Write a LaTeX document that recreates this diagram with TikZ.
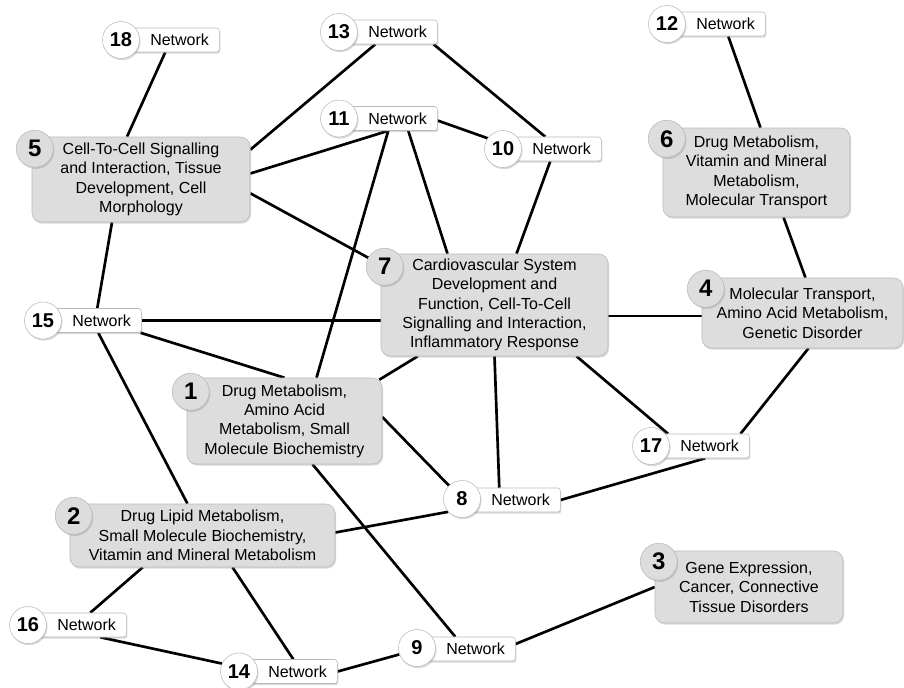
\documentclass[tikz,border=0pt]{standalone}
\usepackage{fontspec}
\setmainfont{Liberation Sans}
\usetikzlibrary{shadows}
\usetikzlibrary{calc}
\usetikzlibrary{backgrounds}

\definecolor{boxgray}{RGB}{221,221,221}
\definecolor{rimgray}{RGB}{185,185,185}

\tikzset{
    topic/.style={draw=rimgray,fill=boxgray,rounded corners=7pt,align=center,inner sep=0pt,
        font=\fontsize{12}{14.5}\selectfont,
        drop shadow={opacity=0.3,shadow xshift=0.8pt,shadow yshift=-1.3pt}},
    topicnum/.style={circle,draw=rimgray,fill=boxgray,minimum size=27.75pt,inner sep=0pt,
        font=\fontsize{18}{18}\selectfont\bfseries,
        drop shadow={opacity=0.3,shadow xshift=0.8pt,shadow yshift=-1.3pt}},
    netbox/.style={draw=rimgray,fill=white,rounded corners=2pt,anchor=west,inner sep=0pt,
        minimum width=73.5pt,minimum height=18pt,font=\fontsize{12}{14}\selectfont,
        execute at begin node={\hspace*{14pt}},
        drop shadow={opacity=0.3,shadow xshift=0.8pt,shadow yshift=-1.3pt}},
    netnum/.style={circle,draw=rimgray,fill=white,minimum size=27.75pt,inner sep=0pt,
        font=\fontsize{15}{15}\selectfont\bfseries,
        drop shadow={opacity=0.3,shadow xshift=0.8pt,shadow yshift=-1.3pt}},
    link/.style={line width=2pt,black}
}

\begin{document}
\begin{tikzpicture}[x=0.75pt,y=-0.75pt]
\useasboundingbox (0,0) rectangle (904,687);

% topic boxes
\node[topic,minimum width=163.5pt,minimum height=63.75pt] (t5) at (141,179.5) {Cell-To-Cell Signalling\\and Interaction, Tissue\\Development, Cell\\Morphology};
\node[topicnum] (c5) at ($(t5.north west)+(3,12)$) {5};
\node[topic,minimum width=140.25pt,minimum height=66.75pt] (t6) at (756.5,172.5) {Drug Metabolism,\\Vitamin and Mineral\\Metabolism,\\Molecular Transport};
\node[topicnum] (c6) at ($(t6.north west)+(4,11)$) {6};
\node[topic,minimum width=170.25pt,minimum height=76.5pt] (t7) at (494.5,305) {Cardiovascular System\\Development and\\Function, Cell-To-Cell\\Signalling and Interaction,\\Inflammatory Response};
\node[topicnum] (c7) at ($(t7.north west)+(4,13)$) {7};
\node[topic,minimum width=150.75pt,minimum height=52.5pt] (t4) at (802.5,313) {Molecular Transport,\\Amino Acid Metabolism,\\Genetic Disorder};
\node[topicnum] (c4) at ($(t4.north west)+(4,11)$) {4};
\node[topic,minimum width=146.25pt,minimum height=64.5pt] (t1) at (284.5,421) {Drug Metabolism,\\Amino Acid\\Metabolism, Small\\Molecule Biochemistry};
\node[topicnum] (c1) at ($(t1.north west)+(4,14)$) {1};
\node[topic,minimum width=198.75pt,minimum height=47.25pt] (t2) at (202.5,535.5) {Drug Lipid Metabolism,\\Small Molecule Biochemistry,\\Vitamin and Mineral Metabolism};
\node[topicnum] (c2) at ($(t2.north west)+(4,12)$) {2};
\node[topic,minimum width=141pt,minimum height=54pt] (t3) at (749,587) {Gene Expression,\\Cancer, Connective\\Tissue Disorders};
\node[topicnum] (c3) at ($(t3.north west)+(4,11)$) {3};

% network labels
\node[netbox] (n18) at (121,40) {Network};
\node[netnum] (c18) at (121,40) {18};
\node[netbox] (n13) at (339,32) {Network};
\node[netnum] (c13) at (339,32) {13};
\node[netbox] (n11) at (339,118.5) {Network};
\node[netnum] (c11) at (339,118.5) {11};
\node[netbox] (n10) at (503,149) {Network};
\node[netnum] (c10) at (503,149) {10};
\node[netbox] (n12) at (667,24) {Network};
\node[netnum] (c12) at (667,24) {12};
\node[netbox] (n15) at (43,320.5) {Network};
\node[netnum] (c15) at (43,320.5) {15};
\node[netbox] (n17) at (651,446) {Network};
\node[netnum] (c17) at (651,446) {17};
\node[netbox] (n16) at (28,625) {Network};
\node[netnum] (c16) at (28,625) {16};
\node[netbox] (n14) at (239,671.5) {Network};
\node[netnum] (c14) at (239,671.5) {14};
\node[netbox] (n9) at (417,649) {Network};
\node[netnum] (c9) at (417,648) {9};
\node[netbox] (n8) at (462,500) {Network};
\node[netnum] (c8) at (462,499) {8};

\begin{scope}[on background layer]
\draw[link] ($(n18.south)+(-5,0)$) -- ($(t5.north)+(-14,0)$);
\draw[link] ($(t5.north east)+(0,13)$) -- ($(n13.south)+(-13,0)$);
\draw[link] ($(t5.east)+(0,-6)$) -- (n11.south);
\draw[link] ($(t5.south east)+(0,-29)$) -- (c7);
\draw[link] ($(t5.south)+(-29,0)$) -- ($(n15.north)+(5,0)$); %Cell-To-Cell
\draw[link] ($(n13.south east)+(-4,0)$) -- ($(n10.north)+(-7,0)$);
\draw[link] ($(n11.east)+(0,2)$) -- (c10.145);
\draw[link] ($(n11.south)+(20,0)$) -- ($(t7.north)+(-47,0)$);
\draw[link] (n11.south) -- ($(t1.north)+(32,0)$);
\draw[link] ($(n10.south)+(-2,0)$) -- ($(t7.north)+(22,0)$);
\draw[link] ($(n12.south)+(12,0)$) -- ($(t6.north)+(4,0)$);
\draw[link] ($(t6.south)+(27,0)$) -- ($(t4.north)+(3,0)$);
\draw[link] ($(t7.east)+(0,11)$) -- ($(t4.west)+(0,3)$);
\draw[link] (n15.east) -- ($(t7.west)+(0,15.5)$); %Network 15
\draw[link] ($(n15.south east)+(-1,0)$) -- (t1.north);
\draw[link] ($(n15.south)+(6,0)$) -- ($(t2.north)+(-15,0)$);
\draw[link] ($(t2.south)+(30,0)$) -- ($(n14.north)+(5,0)$);
\draw[link] ($(t7.south west)+(37,0)$) -- ($(t1.north east)+(-3,2)$); %Cardiovascular
\draw[link] ($(t7.south)+(82,0)$) -- ($(n17.north west)+(17,0)$);
\draw[link] (t7.south) -- ($(n8.north)+(-12,0)$);
\draw[link] ($(t4.south)+(6,0)$) -- ($(n17.north east)+(-9,0)$);
\draw[link] ($(n17.south)+(5,0)$) -- (n8.east);
\draw[link] ($(t1.east)+(0,-4)$) -- (c8); %Drug Metabolism
\draw[link] ($(t1.south)+(28,0)$) -- ($(n9.north)+(-11,0)$);
\draw[link] (c8.223) -- ($(t2.east)+(0,-3)$);
\draw[link] ($(t2.south west)+(73,0)$) -- ($(n16.north)+(13,0)$);
\draw[link] ($(n16.south)+(23,0)$) -- (c14.155);
\draw[link] (n14.east) -- (c9.200);
\draw[link] ($(n9.east)+(0,-5)$) -- (t3.west);
\end{scope}
\end{tikzpicture}
\end{document}
